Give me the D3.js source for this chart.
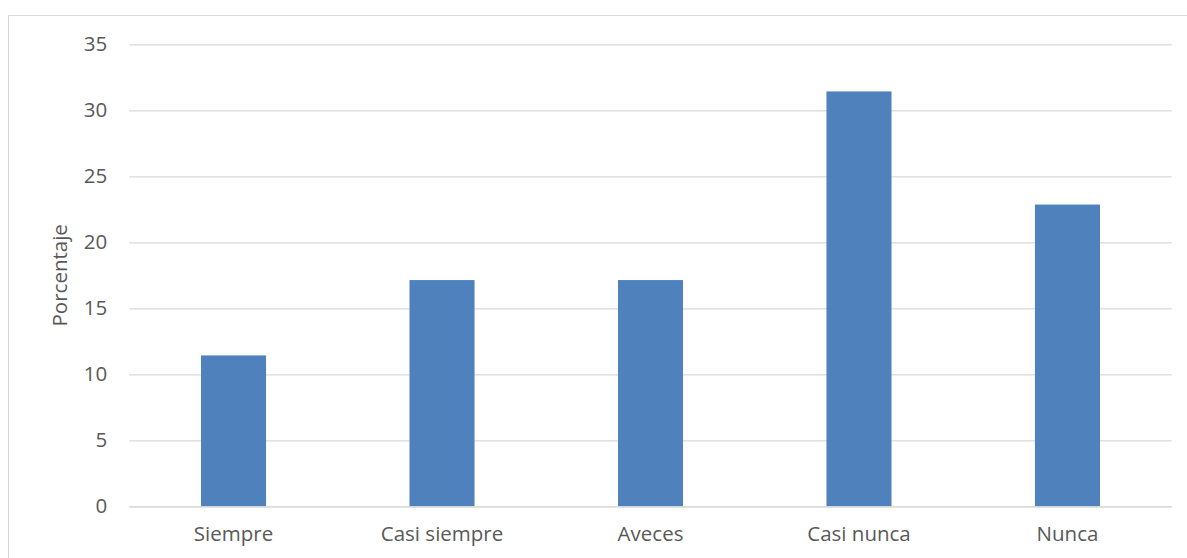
<!DOCTYPE html>
<html>
<head>
<meta charset="utf-8">
<script src="https://cdn.jsdelivr.net/npm/d3@7"></script>
<style>
  html, body { margin: 0; padding: 0; background: #fff; }
  svg text { font-family: "Open Sans", "Liberation Sans", sans-serif; fill: #595959; }
</style>
</head>
<body>
<div id="chart"></div>
<script>
// Respuestas por categoría, en porcentaje
const categories = ["Siempre", "Casi siempre", "Aveces", "Casi nunca", "Nunca"];
const values = [11.43, 17.14, 17.14, 31.43, 22.86];
const yTicks = [0, 5, 10, 15, 20, 25, 30, 35];

const WIDTH = 1187;
const HEIGHT = 558;
const MARGIN = { top: 44.3, right: 15.3, bottom: 51.7, left: 129.3 };
const INNER_W = WIDTH - MARGIN.left - MARGIN.right;
const INNER_H = HEIGHT - MARGIN.top - MARGIN.bottom;
const FONT = 20.5;

const svg = d3.select("#chart")
    .append("svg")
    .attr("width", WIDTH)
    .attr("height", HEIGHT);

// outer chart frame (runs off the right and bottom edges)
svg.append("rect")
    .attr("x", 8.5).attr("y", 15.5)
    .attr("width", WIDTH + 10).attr("height", HEIGHT + 10)
    .attr("fill", "none")
    .attr("stroke", "#d9d9d9")
    .attr("stroke-width", 1);

const g = svg.append("g")
    .attr("transform", `translate(${MARGIN.left},${MARGIN.top})`);

const x = d3.scaleBand()
    .domain(categories)
    .range([0, INNER_W])
    .paddingInner(0.688)
    .paddingOuter(0.344);

const y = d3.scaleLinear()
    .domain([0, 35])
    .range([INNER_H, 0]);

// gridlines + y labels
const yAxis = g.append("g")
    .call(d3.axisLeft(y)
        .tickValues(yTicks)
        .tickSize(-INNER_W)
        .tickPadding(22));
yAxis.select(".domain").remove();
yAxis.selectAll(".tick line")
    .attr("stroke", "#d9d9d9")
    .attr("stroke-width", 1.3);
yAxis.selectAll(".tick text")
    .style("font-size", FONT + "px")
    .attr("fill", "#595959");

// bars
g.selectAll("rect.bar")
    .data(values)
    .join("rect")
    .attr("class", "bar")
    .attr("x", (d, i) => x(categories[i]))
    .attr("y", (d) => y(d))
    .attr("width", x.bandwidth())
    .attr("height", (d) => INNER_H - y(d))
    .attr("fill", "#4f81bd");

// x axis line and labels
const xAxis = g.append("g")
    .attr("transform", `translate(0,${INNER_H})`)
    .call(d3.axisBottom(x).tickSize(0).tickPadding(20));
xAxis.select(".domain")
    .attr("stroke", "#d9d9d9")
    .attr("stroke-width", 1.3);
xAxis.selectAll(".tick text")
    .style("font-size", FONT + "px")
    .attr("fill", "#595959");

// y axis title
svg.append("text")
    .attr("transform", `translate(67,${MARGIN.top + INNER_H / 2}) rotate(-90)`)
    .attr("text-anchor", "middle")
    .style("font-size", FONT + "px")
    .text("Porcentaje");
</script>
</body>
</html>
